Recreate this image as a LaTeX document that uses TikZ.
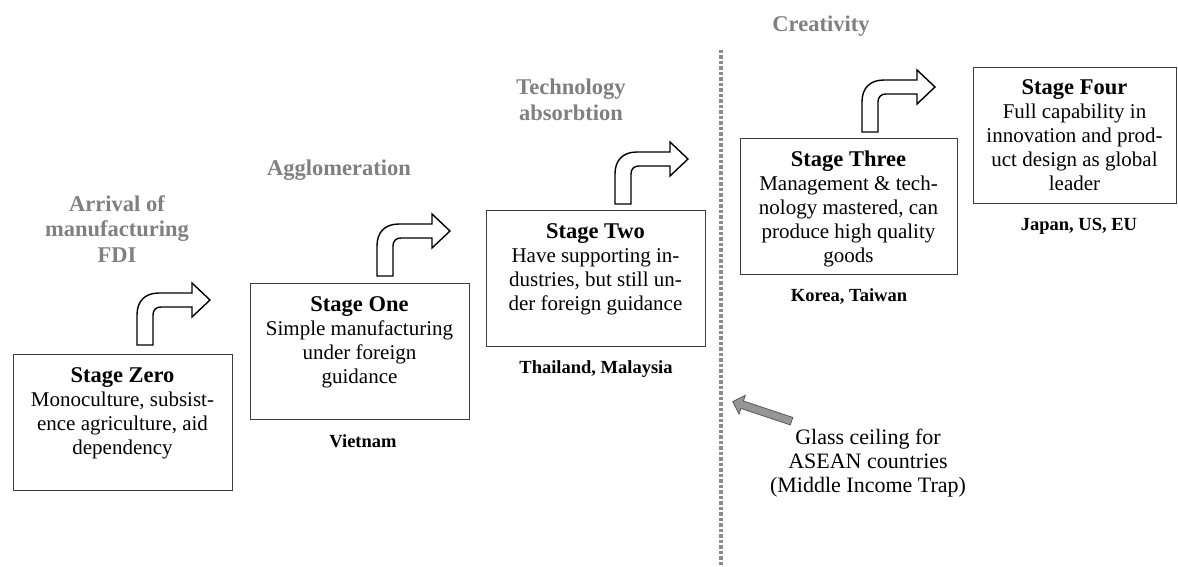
\documentclass[tikz,border=0pt]{standalone}
\usepackage{fontspec}
\setmainfont{Liberation Serif}
\usetikzlibrary{shapes.arrows}
\definecolor{lblgray}{RGB}{128,128,128}
\definecolor{dotgray}{RGB}{140,140,140}
\definecolor{boxline}{RGB}{60,60,60}
\definecolor{arrgray}{RGB}{150,150,150}
\newcommand\stitle[1]{{\bfseries\fontsize{22.5}{24}\selectfont #1}}
\tikzset{
 stagebox/.style={draw=boxline, line width=1pt, inner sep=0, anchor=north west, minimum height=136pt},
 stagetext/.style={align=center, inner sep=0, anchor=north, font=\fontsize{21}{24}\selectfont},
 phase/.style={align=center, inner sep=0, text=lblgray, font=\bfseries\fontsize{22.5}{25.5}\selectfont},
 country/.style={inner sep=0, font=\bfseries\fontsize{18.5}{20}\selectfont},
 glasstext/.style={align=center, inner sep=0, font=\fontsize{22}{24}\selectfont},
 dotline/.style={draw=dotgray, line width=4pt, dash pattern=on 3.5pt off 2pt},
 bentshape/.style={draw=black, line width=1.4pt, fill=white, line join=miter},
 bent/.pic={\path[bentshape] (0,0) -- (0,-30) .. controls (0,-44) and (8,-52) .. (22,-52) -- (55,-52) -- (55,-62) -- (73,-45) -- (55,-28) -- (55,-38) -- (24,-38) .. controls (19,-38) and (16,-35) .. (16,-30) -- (16,0) -- cycle;},
 greyarrow/.style={single arrow, draw=gray!70!black, fill=arrgray, line width=0.8pt, inner sep=3.5pt, single arrow head extend=6pt, minimum height=62pt}
}
\begin{document}
\begin{tikzpicture}[x=1pt,y=-1pt]
\useasboundingbox (0,0) rectangle (1178,567);
% dotted divider
\coordinate (dtop) at (721,50);
\coordinate (dbot) at (721,567);
\draw[dotline] (dtop) -- (dbot);
% boxes
\node[stagebox, minimum width=219pt] (s0) at (13,354) {};
\node[stagebox, minimum width=219pt] (s1) at (250,283) {};
\node[stagebox, minimum width=219pt] (s2) at (486,210) {};
\node[stagebox, minimum width=217pt] (s3) at (740,138) {};
\node[stagebox, minimum width=203pt] (s4) at (973,67) {};
% box texts
\node[stagetext] (t0) at (122.5,367) {\stitle{Stage Zero}\\Monoculture, subsist-\\ence agriculture, aid\\dependency};
\node[stagetext] (t1) at (359.5,296) {\stitle{Stage One}\\Simple manufacturing\\under foreign\\guidance};
\node[stagetext] (t2) at (595.5,223) {\stitle{Stage Two}\\Have supporting in-\\dustries, but still un-\\der foreign guidance};
\node[stagetext] (t3) at (848.5,151) {\stitle{Stage Three}\\Management \& tech-\\nology mastered, can\\produce high quality\\goods};
\node[stagetext] (t4) at (1074.5,79) {\stitle{Stage Four}\\Full capability in\\innovation and prod-\\uct design as global\\leader};
% bent arrows
\pic at (137,345) {bent};
\pic at (377,276) {bent};
\pic at (615,204) {bent};
\pic at (862,132) {bent};
% phase labels
\node[phase] (p0) at (117,229) {Arrival of\\manufacturing\\FDI};
\node[phase] (p1) at (339,170) {Agglomeration};
\node[phase] (p2) at (571,100) {Technology\\absorbtion};
\node[phase] (p3) at (821,26) {Creativity};
% countries
\node[country] (c1) at (363,441) {Vietnam};
\node[country] (c2) at (596,369) {Thailand, Malaysia};
\node[country] (c3) at (849,297) {Korea, Taiwan};
\node[country] (c4) at (1079,226) {Japan, US, EU};
% glass ceiling
\node[glasstext] (g) at (868,463) {Glass ceiling for\\ASEAN countries\\(Middle Income Trap)};
\node[greyarrow, rotate=161.6] (ga) at (764,412) {};
\end{tikzpicture}
\end{document}
